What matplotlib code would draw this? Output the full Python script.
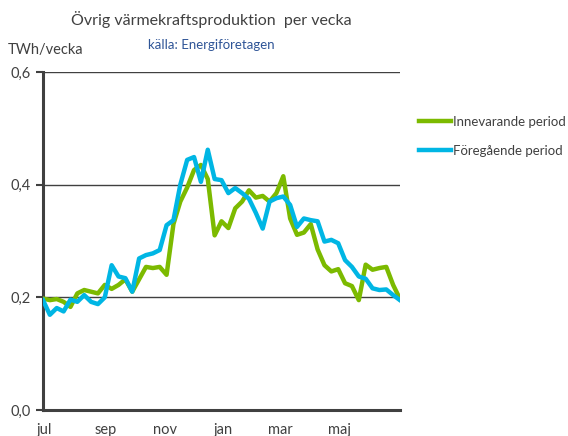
import matplotlib
matplotlib.use("Agg")
import matplotlib.pyplot as plt
import numpy as np

plt.rcParams.update({
    "font.family": ["Lato", "DejaVu Sans"],
    "figure.dpi": 100,
})

# veckovärden, juli -> juni (TWh/vecka)
innevarande = [0.198, 0.195, 0.197, 0.192, 0.183, 0.207, 0.213, 0.210, 0.207, 0.222,
               0.215, 0.222, 0.232, 0.210, 0.232, 0.254, 0.252, 0.254, 0.240, 0.330,
               0.370, 0.395, 0.426, 0.435, 0.410, 0.310, 0.335, 0.323, 0.358, 0.370,
               0.390, 0.377, 0.380, 0.370, 0.385, 0.415, 0.340, 0.311, 0.315, 0.330,
               0.285, 0.257, 0.246, 0.250, 0.225, 0.220, 0.195, 0.258, 0.249, 0.252,
               0.254, 0.222, 0.197]
foregaende = [0.195, 0.169, 0.181, 0.175, 0.196, 0.192, 0.204, 0.192, 0.188, 0.200,
              0.257, 0.237, 0.234, 0.210, 0.269, 0.275, 0.278, 0.284, 0.328, 0.337,
              0.400, 0.444, 0.449, 0.405, 0.462, 0.410, 0.408, 0.385, 0.394, 0.385,
              0.375, 0.350, 0.322, 0.370, 0.376, 0.379, 0.364, 0.325, 0.340, 0.337,
              0.335, 0.299, 0.302, 0.296, 0.266, 0.254, 0.237, 0.233, 0.216, 0.213,
              0.214, 0.204, 0.195]
manader = ["jul", "sep", "nov", "jan", "mar", "maj"]
manad_pos = [0.2, 9.2, 17.7, 26.3, 34.6, 43.2]
y_ticks = [0.0, 0.2, 0.4, 0.6]

weeks = np.arange(len(innevarande))

fig = plt.figure(figsize=(5.68, 4.36))
ax = fig.add_axes([43 / 568, 26 / 436, 357 / 568, 338 / 436])

ax.plot(weeks, innevarande, color="#7CBA00", linewidth=3.2, label="Innevarande period",
        solid_joinstyle="round", zorder=3)
ax.plot(weeks, foregaende, color="#00B6E4", linewidth=3.2, label="Föregående period",
        solid_joinstyle="round", zorder=3)

ax.set_xlim(0, len(innevarande) - 1)
ax.set_ylim(0, 0.6)
ax.set_yticks(y_ticks)
ax.set_yticklabels([f"{v:.1f}".replace(".", ",") for v in y_ticks], fontsize=10.5, color="#404040")
ax.set_xticks(manad_pos)
ax.set_xticklabels(manader, fontsize=10.5, color="#404040")
ax.tick_params(axis="x", length=0, pad=9)
ax.tick_params(axis="y", length=5, width=1.5, color="#404040", pad=4)
ax.grid(axis="y", color="#404040", linewidth=1.0)
ax.set_axisbelow(True)
for s in ["top", "right"]:
    ax.spines[s].set_visible(False)
for s in ["left", "bottom"]:
    ax.spines[s].set_color("#404040")
    ax.spines[s].set_linewidth(2.2)

fig.text(211 / 568, 1 - 20 / 436, "Övrig värmekraftsproduktion  per vecka",
         ha="center", va="center", fontsize=11.5, color="#404040")
fig.text(211 / 568, 1 - 45 / 436, "källa: Energiföretagen",
         ha="center", va="center", fontsize=9.5, color="#2F5597")
fig.text(8 / 568, 1 - 50 / 436, "TWh/vecka", ha="left", va="center",
         fontsize=10.5, color="#404040")

fig.legend(loc="upper left", bbox_to_anchor=(407 / 568, 1 - 104 / 436), frameon=False,
           fontsize=9.5, handlelength=2.4, handletextpad=0.2, labelspacing=1.3,
           labelcolor="#404040")

fig.savefig("out.png", dpi=100)
